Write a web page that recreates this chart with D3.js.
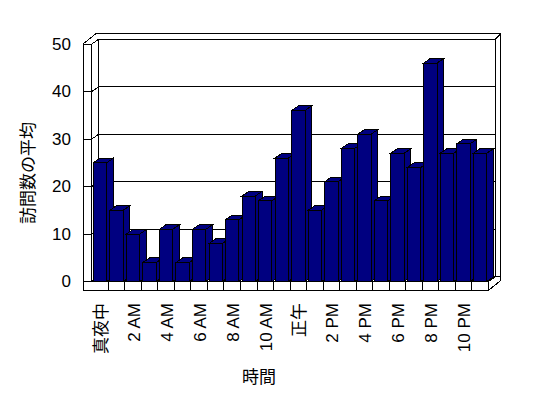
<!DOCTYPE html>
<html>
<head>
<meta charset="utf-8">
<script src="https://cdn.jsdelivr.net/npm/d3@7"></script>
<style>
  html, body { margin: 0; padding: 0; background: #fff; }
  svg { display: block; }
  text { font-family: "Liberation Sans", "Noto Sans CJK JP", sans-serif; fill: #000; -webkit-font-smoothing: antialiased; }
</style>
</head>
<body>
<svg id="chart" width="548" height="398"></svg>
<script>
// ---- data ----
const categories = ["真夜中","1 AM","2 AM","3 AM","4 AM","5 AM","6 AM","7 AM","8 AM","9 AM","10 AM","11 AM",
                    "正午","1 PM","2 PM","3 PM","4 PM","5 PM","6 PM","7 PM","8 PM","9 PM","10 PM","11 PM"];
const visits = [25,15,10,4,11,4,11,8,13,18,17,26,36,15,21,28,31,17,27,24,46,27,29,27];
const yTicks = [0,10,20,30,40,50];
const xTitle = "時間";
const yTitle = "訪問数の平均";

// ---- layout ----
const svg = d3.select("#chart");
const L = 91.8, R = 488.3, Y0 = 281.5, YTOP = 44;
const DX = 6.7, DY = -4.6;          // depth offset
const OUTL = 83, OUTT = 33.7, OUTR = 500.7, FLOORB = 290.5;
const barColor = "#000080";

const x = d3.scaleBand().domain(categories).range([L, R]).paddingInner(0.19).paddingOuter(0.095);
const y = d3.scaleLinear().domain([0, 50]).range([Y0, YTOP]);

const g = svg.append("g").attr("shape-rendering", "crispEdges")
  .attr("stroke", "#000").attr("stroke-width", 1).attr("fill", "none");

function line(x1, y1, x2, y2) {
  g.append("line").attr("x1", x1).attr("y1", y1).attr("x2", x2).attr("y2", y2);
}

// gridlines on back wall + left wall diagonals + ticks
yTicks.forEach(v => {
  const yy = y(v);
  line(L + DX, yy + DY, R + DX, yy + DY);
  line(L, yy, L + DX, yy + DY);
  line(OUTL, yy, L, yy);
});

// walls
line(L + DX, y(50) + DY, L + DX, Y0 + DY);
line(R + DX, y(50) + DY, R + DX, Y0 + DY);
line(L, y(50), L, Y0);
line(OUTL, y(50), OUTL, FLOORB);
line(OUTL, y(50), 96, OUTT);
line(96, OUTT, OUTR, OUTT);
line(R + DX, y(50) + DY, OUTR, OUTT);
line(OUTR, OUTT, OUTR, Y0 - 1);

// bars
const bw = x.bandwidth();
const bars = svg.append("g").attr("shape-rendering", "crispEdges");
categories.forEach((c, i) => {
  const x0 = x(c), yt = y(visits[i]);
  const bg = bars.append("g").attr("fill", barColor).attr("stroke", "#000").attr("stroke-width", 1);
  bg.append("polygon").attr("points", [
    [x0 + bw, yt], [x0 + bw + DX, yt + DY], [x0 + bw + DX, Y0 + DY], [x0 + bw, Y0]
  ].map(p => p.join(",")).join(" "));
  bg.append("polygon").attr("points", [
    [x0, yt], [x0 + DX, yt + DY], [x0 + bw + DX, yt + DY], [x0 + bw, yt]
  ].map(p => p.join(",")).join(" "));
  bg.append("rect").attr("x", x0).attr("y", yt).attr("width", bw).attr("height", Y0 - yt);
});

// floor front face
const f = svg.append("g").attr("shape-rendering", "crispEdges")
  .attr("stroke", "#000").attr("stroke-width", 1);
f.append("rect").attr("x", OUTL).attr("y", Y0).attr("width", R - OUTL).attr("height", FLOORB - Y0).attr("fill", "#fff");
f.append("polygon").attr("fill", "#fff").attr("points", [
  [R, Y0], [R + DX, Y0 + DY], [OUTR, Y0 + DY], [OUTR, Y0 - 1], [R, FLOORB]
].map(p => p.join(",")).join(" "));
categories.forEach((c, i) => {
  if (i === 0) return;
  const xx = x(c) - x.step() * x.paddingInner() / 2;
  f.append("line").attr("x1", xx).attr("y1", Y0).attr("x2", xx).attr("y2", FLOORB);
});

// y tick labels
svg.append("g").selectAll("text").data(yTicks).join("text")
  .attr("fill", "#000")
  .attr("x", 71).attr("y", d => y(d)).attr("dy", "0.35em")
  .attr("text-anchor", "end").attr("font-size", 17).text(d => d);

// x tick labels (every other category)
svg.append("g").selectAll("text").data(categories.filter((c, i) => i % 2 === 0)).join("text")
  .attr("fill", "#000")
  .attr("transform", d => `translate(${x(d) + bw / 2 + 0.5},303) rotate(-90)`)
  .attr("dy", "0.35em").attr("text-anchor", "end").attr("font-size", 17).text(d => d);

// axis titles
svg.append("text").attr("fill", "#000").attr("transform", "translate(28.5,173) rotate(-90)")
  .attr("dy", "0.35em").attr("text-anchor", "middle").attr("font-size", 17).text(yTitle);
svg.append("text").attr("fill", "#000").attr("x", 259).attr("y", 377).attr("dy", "0.35em")
  .attr("text-anchor", "middle").attr("font-size", 17).text(xTitle);
</script>
</body>
</html>
